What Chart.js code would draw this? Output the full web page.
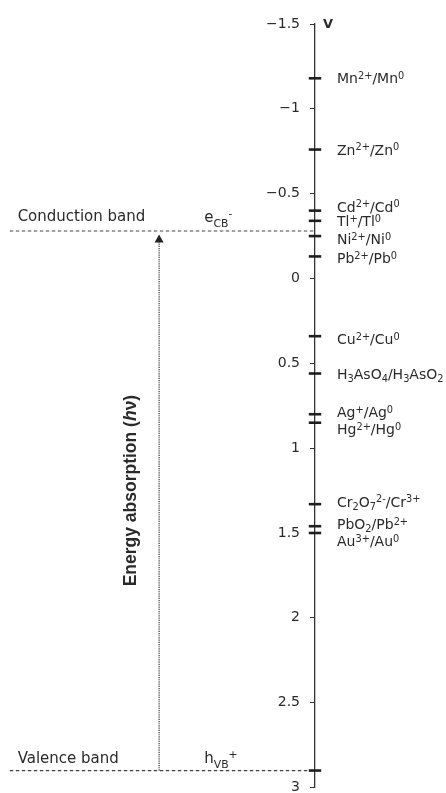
<!DOCTYPE html>
<html>
<head>
<meta charset="utf-8">
<script src="https://cdn.jsdelivr.net/npm/chart.js@4/dist/chart.umd.min.js"></script>
<style>
  html, body { margin: 0; padding: 0; background: #fff; }
  #wrap { width: 446px; height: 793px; }
</style>
</head>
<body>
<div id="wrap"><canvas id="c"></canvas></div>
<script>
const couples = ['Mn^{2+}/Mn^{0}', 'Zn^{2+}/Zn^{0}', 'Cd^{2+}/Cd^{0}', 'Tl^{+}/Tl^{0}', 'Ni^{2+}/Ni^{0}',
  'Pb^{2+}/Pb^{0}', 'Cu^{2+}/Cu^{0}', 'H_{3}AsO_{4}/H_{3}AsO_{2}', 'Ag^{+}/Ag^{0}', 'Hg^{2+}/Hg^{0}',
  'Cr_{2}O_{7}^{2-}/Cr^{3+}', 'PbO_{2}/Pb^{2+}', 'Au^{3+}/Au^{0}'];
const potentials = [-1.18, -0.76, -0.40, -0.34, -0.25, -0.13, 0.34, 0.56, 0.80, 0.85, 1.33, 1.46, 1.50];

// band edges
const conductionBand = -0.28;
const valenceBand = 2.9;
const arrowTop = -0.23;

// axis range
const yMin = -1.5, yMax = 3, yStep = 0.5;

// layout (x is in axis units: 0 = the potential axis, 1 = right edge)
const labelShift = [0, 0, -4, 0, 3, 2, 3, 0, -2, 6, -2.5, -2.5, 8];
const bandStartX = -2.33;
const arrowX = -1.19;
const bandLabelX = -2.27;
const carrierLabelX = -0.845;
const sideTitleX = -1.37;
const sideTitleY = 1.25;

const INK = '#2a2a2a';
Chart.defaults.font.family = 'DejaVu Sans';
Chart.defaults.color = INK;

function drawRich(ctx, str, x, y, size, opts) {
  opts = opts || {};
  const fam = opts.family || 'DejaVu Sans';
  const supK = opts.supK || 0.7, subK = opts.subK || 0.7;
  const supUp = opts.supUp || size * 0.3, subDown = opts.subDown || size * 0.22;
  const re = /([_^])\{([^}]*)\}|([^_^]+)/g;
  let m;
  while ((m = re.exec(str))) {
    let txt, s = size, dy = 0;
    if (m[3]) {
      txt = m[3];
    } else {
      txt = m[2];
      if (m[1] === '^') { s = size * supK; dy = -supUp; }
      else { s = size * subK; dy = subDown; }
    }
    ctx.font = s + 'px "' + fam + '"';
    ctx.fillText(txt, x, y + dy);
    x += ctx.measureText(txt).width;
  }
}

const textPlugin = {
  id: 'textPlugin',
  afterDatasetsDraw(chart) {
    const { ctx } = chart;
    const xs = chart.scales.x, ys = chart.scales.y;
    const axisPx = xs.getPixelForValue(0);
    ctx.save();
    ctx.textAlign = 'left';
    ctx.textBaseline = 'alphabetic';

    // arrow head on the excitation arrow
    const ax = xs.getPixelForValue(arrowX), ay = ys.getPixelForValue(arrowTop);
    ctx.fillStyle = '#222';
    ctx.beginPath();
    ctx.moveTo(ax, ay - 5);
    ctx.lineTo(ax + 4.5, ay + 3);
    ctx.lineTo(ax - 4.5, ay + 3);
    ctx.closePath();
    ctx.fill();
    ctx.fillStyle = INK;

    couples.forEach((c, i) => {
      const py = ys.getPixelForValue(potentials[i]) + labelShift[i] + 5;
      drawRich(ctx, c, axisPx + 22, py, 14);
    });

    ctx.font = 'bold 13px "DejaVu Sans"';
    ctx.fillText('V', axisPx + 8, ys.getPixelForValue(yMin) + 3.5);

    const cbY = ys.getPixelForValue(conductionBand);
    const vbY = ys.getPixelForValue(valenceBand);
    drawRich(ctx, 'Conduction band', xs.getPixelForValue(bandLabelX), cbY - 10, 15);
    drawRich(ctx, 'e_{CB}^{-}', xs.getPixelForValue(carrierLabelX), cbY - 9, 15,
      { subK: 0.72, subDown: 5, supK: 0.72, supUp: 5 });
    drawRich(ctx, 'Valence band', xs.getPixelForValue(bandLabelX), vbY - 8, 15);
    drawRich(ctx, 'h_{VB}^{+}', xs.getPixelForValue(carrierLabelX), vbY - 8, 15,
      { subK: 0.72, subDown: 5, supK: 0.72, supUp: 5 });

    // rotated title
    const parts = [
      ['Energy absorption (', 'bold 17.5px "Liberation Sans"'],
      ['h', 'italic bold 17.5px "Liberation Sans"'],
      ['\u03bd)', 'bold 17.5px "Liberation Sans"']
    ];
    ctx.translate(xs.getPixelForValue(sideTitleX), ys.getPixelForValue(sideTitleY));
    ctx.rotate(-Math.PI / 2);
    let total = 0;
    parts.forEach(p => { ctx.font = p[1]; total += ctx.measureText(p[0]).width; });
    let cx = -total / 2;
    parts.forEach(p => { ctx.font = p[1]; ctx.fillText(p[0], cx, 0); cx += ctx.measureText(p[0]).width; });
    ctx.restore();
  }
};

new Chart(document.getElementById('c'), {
  type: 'scatter',
  data: {
    datasets: [
      {
        data: potentials.concat([valenceBand]).map(v => ({ x: 0, y: v })),
        pointStyle: 'line',
        pointRadius: 6.2,
        pointBorderWidth: 2.6,
        pointBorderColor: '#1e1e1e',
        clip: false
      },
      {
        data: [{ x: bandStartX, y: conductionBand }, { x: 0, y: conductionBand }],
        showLine: true,
        borderColor: '#444',
        borderWidth: 1.2,
        borderDash: [3.5, 2.5],
        pointRadius: 0,
        clip: false
      },
      {
        data: [{ x: bandStartX, y: valenceBand }, { x: 0, y: valenceBand }],
        showLine: true,
        borderColor: '#444',
        borderWidth: 1.2,
        borderDash: [3.5, 2.5],
        pointRadius: 0,
        clip: false
      },
      {
        data: [{ x: arrowX, y: valenceBand }, { x: arrowX, y: arrowTop }],
        showLine: true,
        borderColor: '#444',
        borderWidth: 1.3,
        borderDash: [1.2, 1],
        pointRadius: 0,
        clip: false
      }
    ]
  },
  options: {
    responsive: true,
    maintainAspectRatio: false,
    animation: false,
    events: [],
    layout: { autoPadding: false, padding: { left: 0, right: 0, top: 24, bottom: 5.5 } },
    plugins: { legend: { display: false }, tooltip: { enabled: false } },
    scales: {
      x: {
        type: 'linear',
        display: false,
        afterDataLimits(s) { s.min = 0; s.max = 1; },
        afterBuildTicks(s) { s.min = 0; s.max = 1; }
      },
      y: {
        type: 'linear',
        position: 'left',
        reverse: true,
        min: yMin,
        max: yMax,
        ticks: {
          stepSize: yStep,
          autoSkip: false,
          padding: 10,
          color: INK,
          font: { family: 'DejaVu Sans', size: 14 },
          callback: v => (v < 0 ? '\u2212' + Math.abs(v) : String(v))
        },
        grid: { drawOnChartArea: false, tickLength: 5, color: '#333', lineWidth: 1 },
        border: { color: '#333', width: 1.3 },
        afterFit(s) { s.width = 315; s.paddingTop = 0; s.paddingBottom = 0; }
      }
    }
  },
  plugins: [textPlugin]
});
</script>
</body>
</html>
